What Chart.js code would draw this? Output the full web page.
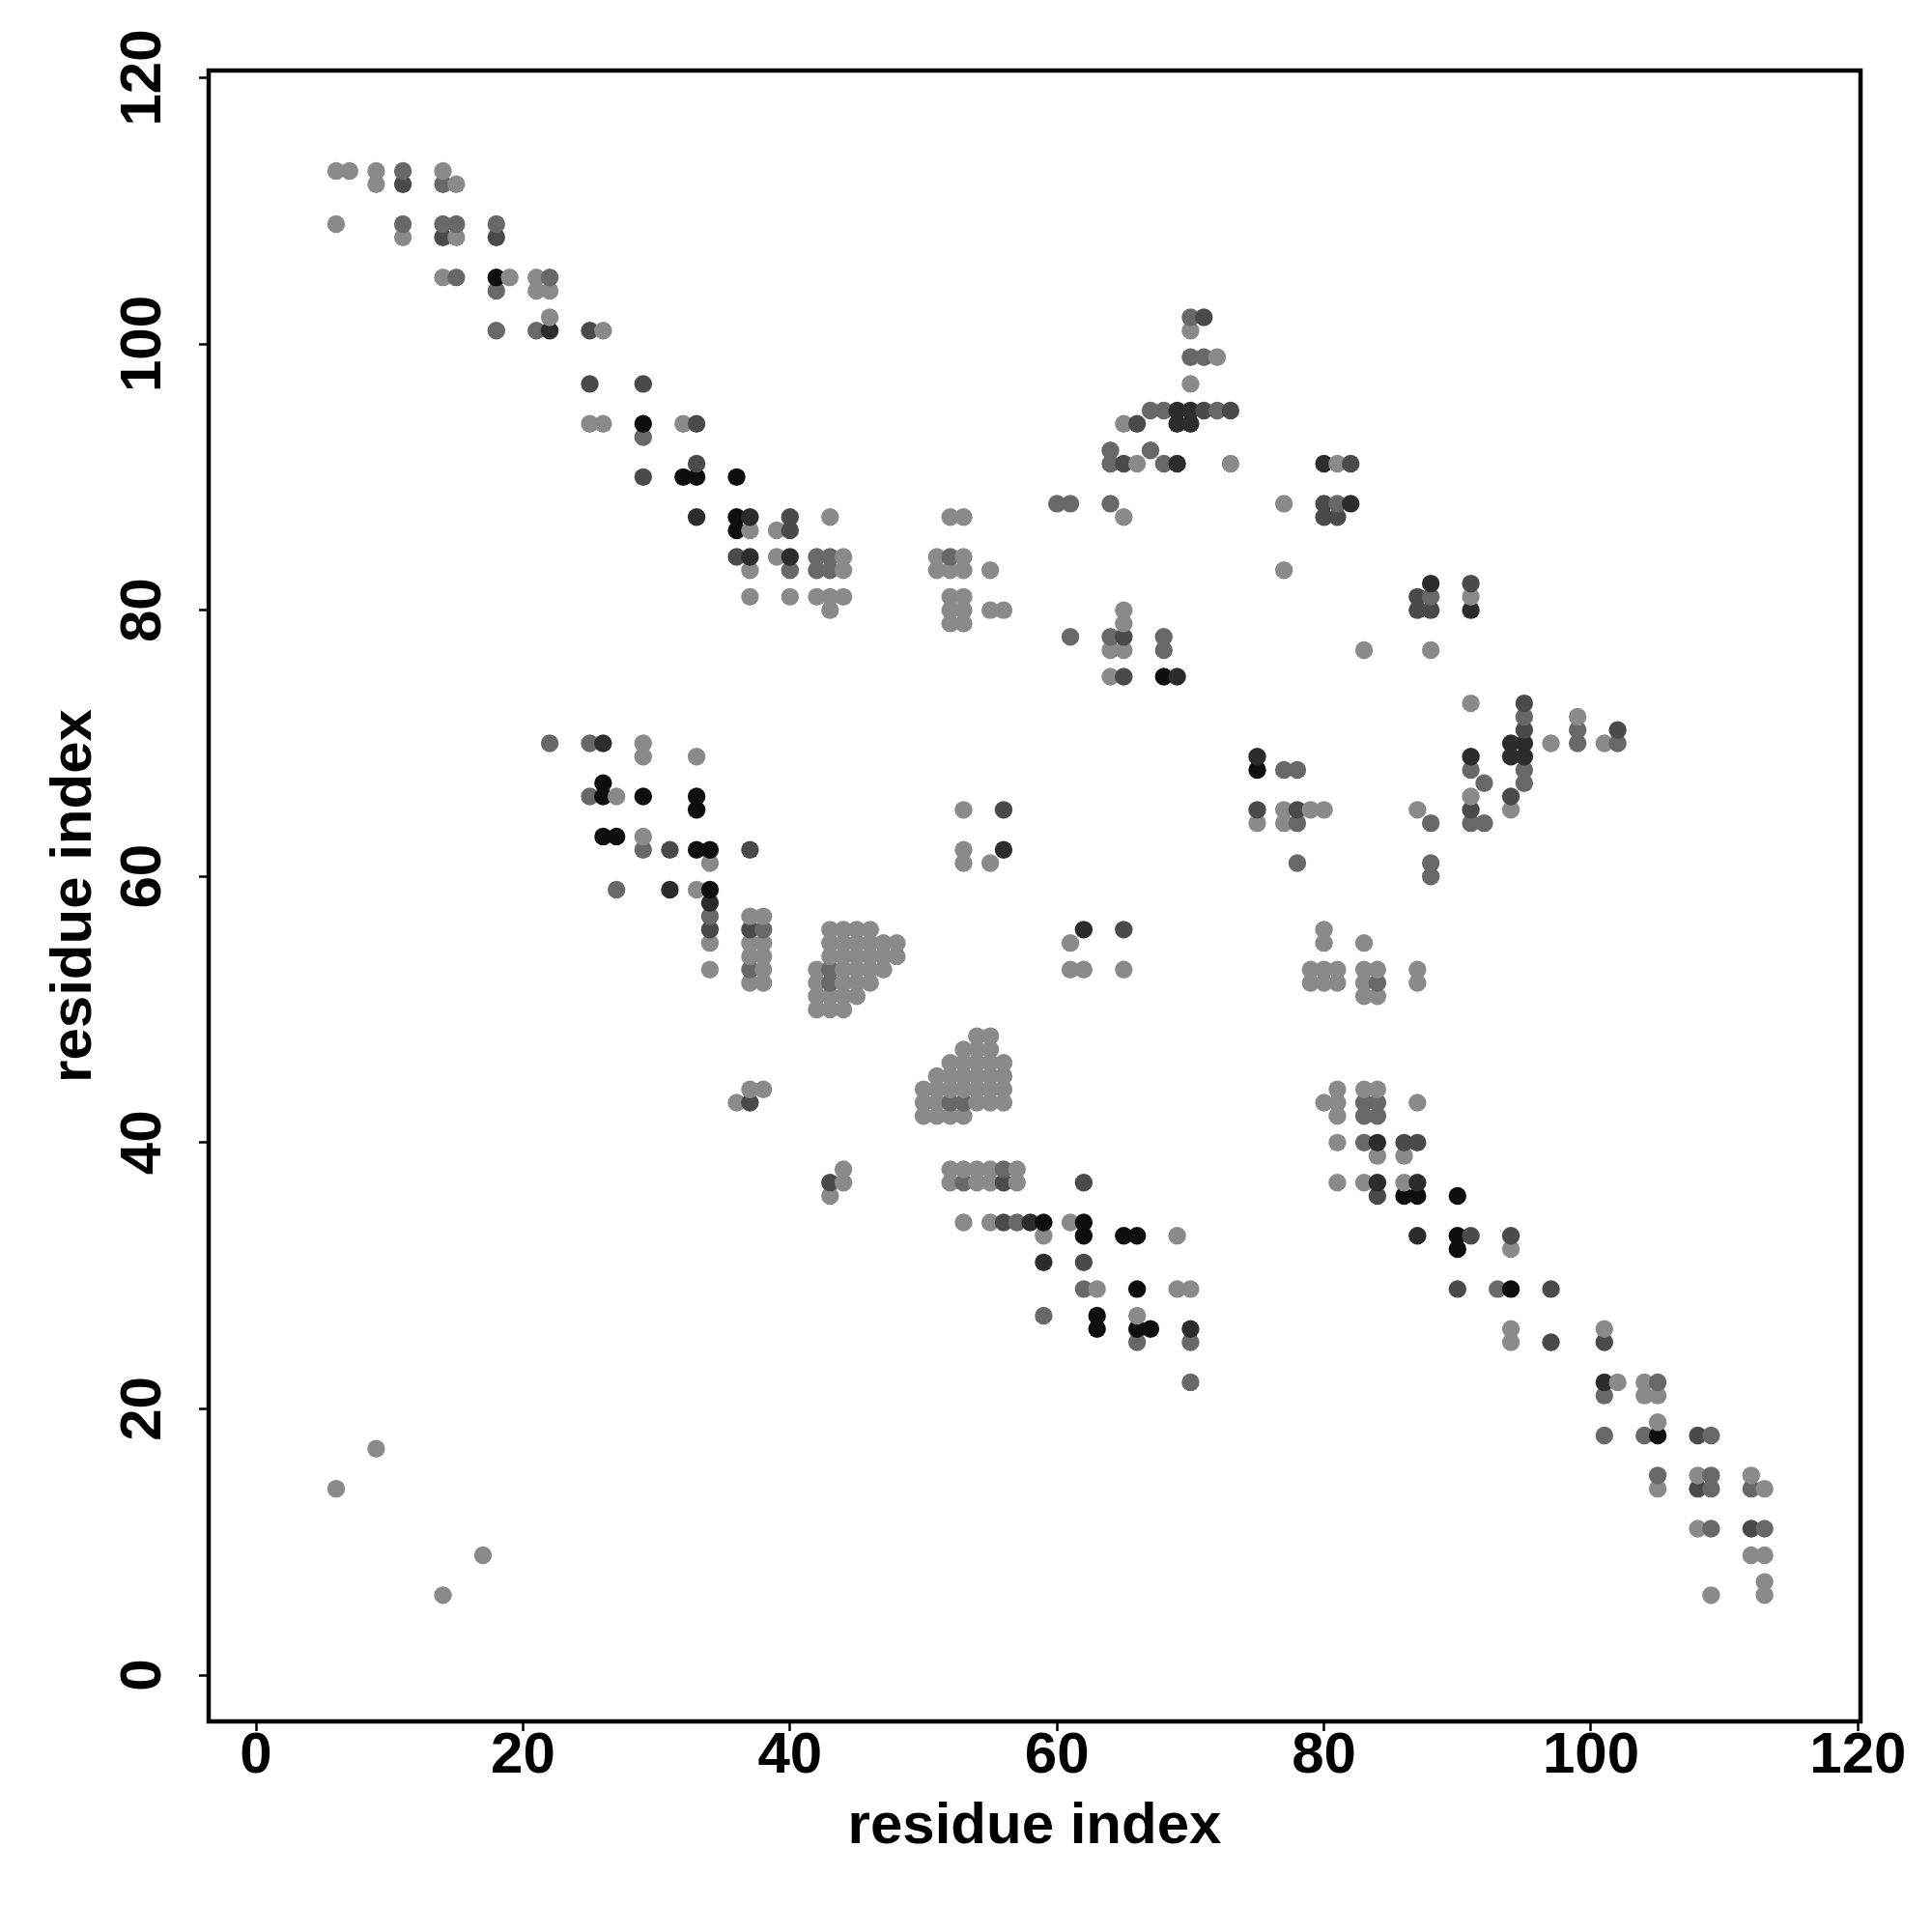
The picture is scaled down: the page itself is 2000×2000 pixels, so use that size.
<!DOCTYPE html>
<html><head><meta charset="utf-8">
<script src="https://cdn.jsdelivr.net/npm/chart.js@4.4.3/dist/chart.umd.min.js"></script>
<style>html,body{margin:0;padding:0;background:#fff}</style>
</head>
<body>
<canvas id="contactmap" width="2000" height="2000"></canvas>
<script>
// contact map, upper triangle (i < j); the map is symmetric so each contact is drawn at (i,j) and (j,i)
const contactRows = [14, 17, 43, 44, 50, 51, 52, 53, 54, 55, 56, 57, 58, 59, 61, 62, 63, 65, 66, 67, 69, 70,
  75, 77, 78, 79, 80, 81, 83, 84, 86, 87, 88, 90, 91, 92, 93, 94, 95, 97, 99, 101, 102, 104, 105, 108, 109, 112, 113]
const contactCols = [
  [6], [9], [36,37], [37,38], [42,43,44], [42,43,44,45], [37,38,42,43,44,45,46],
  [34,37,38,42,43,44,45,46,47], [37,38,43,44,45,46,47,48], [34,37,38,43,44,45,46,47,48],
  [34,37,38,43,44,45,46], [34,37,38], [34], [27,31,33,34], [34,53,55], [29,31,33,34,37,53,56],
  [26,27,29], [33,53,56], [25,26,27,29,33], [26], [29,33], [22,25,26,29],
  [64,65,68,69], [64,65,68], [61,64,65,68], [52,53,65], [43,52,53,55,56,65], [37,40,42,43,44,52,53],
  [37,40,42,43,44,51,52,53,55,77], [36,37,39,40,42,43,44,51,52,53], [36,37,39,40],
  [33,36,37,40,43,52,53,65,80,81], [60,61,64,77,80,81,82], [29,32,33,36],
  [33,64,65,66,68,69,73,80,81,82], [64,67], [29], [25,26,29,32,33,65,66,69,70],
  [67,68,69,70,71,72,73], [25,29,70], [70,71,72], [18,21,22,25,26,70], [22,70,71], [18,21,22],
  [14,15,18,19,21,22], [11,14,15,18], [6,11,14,15,18], [9,11,14,15], [6,7,9,11,14]
]
// contact strength, 1 = weakest (light grey) .. 5 = strongest (black)
const contactShades = [
  [1], [1], [1,3], [1,1], [1,1,1], [1,1,1,1], [1,1,1,2,1,1,1],
  [1,2,1,1,2,1,1,1,1], [1,1,1,1,1,1,1,1], [1,1,1,1,1,1,1,1,1],
  [3,3,2,1,1,1,1], [2,1,1], [4], [2,4,1,5], [1,1,1], [2,3,5,5,3,1,4],
  [5,5,1], [5,1,3], [2,5,1,5,5], [5], [1,1], [2,2,4,1],
  [1,3,5,4], [1,1,2], [2,2,3,2], [1,1,1], [1,1,1,1,1,1], [1,1,1,1,1,1,1],
  [1,2,2,2,1,1,1,1,1,1], [3,4,1,4,2,2,1,1,2,1], [5,1,1,3],
  [4,5,4,3,1,1,1,1,3,3], [2,2,2,1,3,2,4], [3,5,5,5],
  [3,2,3,1,2,4,1,4,1,3], [2,2], [2], [1,1,5,1,3,1,3,4,4],
  [2,2,4,4,3,2,3], [3,3,1], [2,2,1], [2,2,4,3,1,1], [1,2,3], [2,1,1],
  [1,2,5,1,1,2], [1,3,1,3], [1,2,2,2,2], [1,3,2,1], [1,1,1,2,1]
]
const tickValues = [0, 20, 40, 60, 80, 100, 120]
const axisTitle = "residue index"

const shadeColors = ['#8a8a8a', '#686868', '#4a4a4a', '#2c2c2c', '#0e0e0e']

points = []; colors = []
contactRows.forEach(function(j, r) {
  contactCols[r].forEach(function(i, k) {
    c = shadeColors[contactShades[r][k] - 1]
    points.push({x: i, y: j}); colors.push(c)
    points.push({x: j, y: i}); colors.push(c)
  })
})

FONT = {family: "'Liberation Sans', Arial, sans-serif", weight: 'bold', size: 60}

frameBox = {
  id: 'frameBox',
  beforeDraw(chart) {
    const ctx = chart.ctx
    ctx.save(); ctx.fillStyle = '#fff'; ctx.fillRect(0, 0, chart.width, chart.height); ctx.restore()
  },
  afterDatasetsDraw(chart) {
    const {ctx, chartArea: a} = chart
    ctx.save()
    ctx.strokeStyle = '#000'; ctx.lineWidth = 4.5
    ctx.strokeRect(a.left, a.top, a.right - a.left, a.bottom - a.top)
    ctx.restore()
  }
}

function setTicks(scale) { scale.ticks = tickValues.map(v => ({value: v})) }

config = {
  type: 'scatter',
  data: { datasets: [{
    data: points,
    pointBackgroundColor: colors,
    pointBorderWidth: 0,
    pointRadius: 9.2,
    pointHoverRadius: 9.2
  }]},
  options: {
    responsive: false,
    animation: false,
    events: [],
    layout: { padding: {top: 73, right: 74, bottom: 0, left: 0} },
    plugins: { legend: {display: false}, tooltip: {enabled: false} },
    scales: {
      x: {
        type: 'linear', min: -3.55, max: 120.19,
        afterBuildTicks: setTicks,
        afterFit: s => { s.height = 218 },
        border: {display: false},
        grid: {drawOnChartArea: false, tickLength: 10, tickWidth: 2.5, tickColor: '#000'},
        ticks: {color: '#000', font: FONT, padding: -9.5, maxRotation: 0, autoSkip: false},
        title: {display: true, text: axisTitle, color: '#000', font: FONT, padding: {top: 0, bottom: 73}}
      },
      y: {
        type: 'linear', min: -3.48, max: 120.54,
        afterBuildTicks: setTicks,
        afterFit: s => { s.width = 216 },
        border: {display: false},
        grid: {drawOnChartArea: false, tickLength: 10, tickWidth: 2.5, tickColor: '#000'},
        ticks: {color: '#000', font: FONT, padding: 6.5, minRotation: 90, maxRotation: 90, crossAlign: 'center', autoSkip: false},
        title: {display: true, text: axisTitle, color: '#000', font: FONT, padding: {top: 41, bottom: 0}}
      }
    }
  },
  plugins: [frameBox]
}
new Chart(document.querySelector("#contactmap"), config)
</script>
</body></html>
